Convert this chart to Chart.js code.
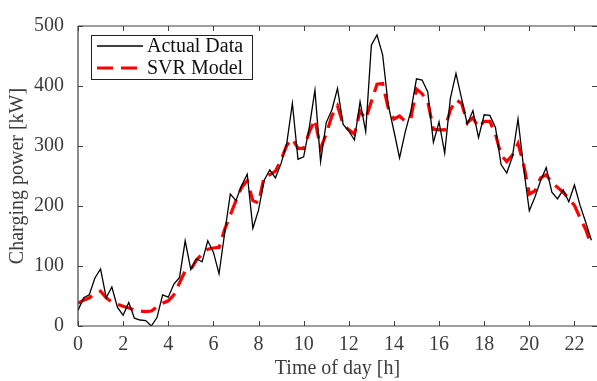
<!DOCTYPE html>
<html>
<head>
<meta charset="utf-8">
<script src="https://cdn.jsdelivr.net/npm/chart.js@4.4.0/dist/chart.umd.min.js"></script>
<style>
  html, body { margin: 0; padding: 0; background: #fff; }
  #wrap { width: 597px; height: 381px; }
</style>
</head>
<body>
<div id="wrap"><canvas id="powerChart"></canvas></div>
<script>
// time of day, 15 minute steps
const hours = [
  0, 0.25, 0.5, 0.75, 1, 1.25, 1.5, 1.75, 2, 2.25, 2.5, 2.75,
  3, 3.25, 3.5, 3.75, 4, 4.25, 4.5, 4.75, 5, 5.25, 5.5, 5.75,
  6, 6.25, 6.5, 6.75, 7, 7.25, 7.5, 7.75, 8, 8.25, 8.5, 8.75,
  9, 9.25, 9.5, 9.75, 10, 10.25, 10.5, 10.75, 11, 11.25, 11.5, 11.75,
  12, 12.25, 12.5, 12.75, 13, 13.25, 13.5, 13.75, 14, 14.25, 14.5, 14.75,
  15, 15.25, 15.5, 15.75, 16, 16.25, 16.5, 16.75, 17, 17.25, 17.5, 17.75,
  18, 18.25, 18.5, 18.75, 19, 19.25, 19.5, 19.75, 20, 20.25, 20.5, 20.75,
  21, 21.25, 21.5, 21.75, 22, 22.25, 22.5, 22.75
];

const actualData = [
  26, 47, 52, 80, 95, 47, 65, 31, 18, 39, 13, 10,
  9, 0, 14, 52, 48, 70, 81, 142, 94, 112, 107, 142,
  123, 87, 155, 220, 209, 234, 253, 163, 193, 243, 260, 247,
  271, 304, 371, 278, 282, 331, 393, 274, 339, 360, 396, 336,
  325, 310, 374, 324, 468, 485, 452, 368, 325, 280, 323, 358,
  412, 410, 390, 306, 340, 288, 379, 421, 379, 336, 359, 314,
  352, 351, 331, 269, 255, 282, 345, 263, 192, 215, 242, 264,
  223, 212, 227, 207, 235, 201, 173, 143
];

const svrModel = [
  38, 43, 47, 54, 58, 47, 40, 36, 33, 30, 27, 25,
  24, 25, 32, 38, 42, 52, 72, 92, 94, 110, 120, 128,
  130, 131, 161, 185, 209, 231, 242, 209, 205, 249, 252, 258,
  277, 301, 312, 296, 296, 323, 344, 296, 320, 350, 367, 336,
  327, 320, 358, 345, 374, 403, 404, 363, 345, 350, 341, 346,
  395, 387, 374, 328, 327, 327, 360, 377, 371, 339, 347, 331,
  341, 341, 320, 285, 274, 285, 304, 269, 220, 225, 247, 252,
  239, 231, 223, 212, 201, 180, 161, 134
];

const xTicks = [0, 2, 4, 6, 8, 10, 12, 14, 16, 18, 20, 22];
const yTicks = [0, 100, 200, 300, 400, 500];

const serif = '"Liberation Serif", "DejaVu Serif", serif';
const textColor = '#3c3c3c';
const frameColor = '#404040';

// box, inward ticks and legend (MATLAB look)
const frameAndLegend = {
  id: 'frameAndLegend',
  afterDraw(chart) {
    const ctx = chart.ctx;
    const a = chart.chartArea;
    const xs = chart.scales.x, ys = chart.scales.y;
    ctx.save();
    ctx.strokeStyle = frameColor;
    ctx.lineWidth = 1.2;
    ctx.beginPath();
    ctx.moveTo(a.left, a.top); ctx.lineTo(a.right, a.top);
    ctx.moveTo(a.left, a.bottom); ctx.lineTo(a.right, a.bottom);
    ctx.moveTo(a.left, a.top); ctx.lineTo(a.left, a.bottom);
    ctx.stroke();

    ctx.lineWidth = 1;
    ctx.beginPath();
    xTicks.forEach(v => {
      const px = Math.round(xs.getPixelForValue(v)) + 0.5;
      ctx.moveTo(px, a.bottom); ctx.lineTo(px, a.bottom - 5);
      ctx.moveTo(px, a.top); ctx.lineTo(px, a.top + 5);
    });
    yTicks.forEach(v => {
      const py = Math.round(ys.getPixelForValue(v)) + 0.5;
      ctx.moveTo(a.left, py); ctx.lineTo(a.left + 5, py);
      ctx.moveTo(a.right, py); ctx.lineTo(a.right - 5, py);
    });
    ctx.stroke();

    // legend
    const lx = a.left + 13, ly = a.top + 9, lw = 161, lh = 44;
    ctx.fillStyle = '#fff';
    ctx.fillRect(lx, ly, lw, lh);
    ctx.strokeStyle = '#222';
    ctx.lineWidth = 1;
    ctx.strokeRect(lx + 0.5, ly + 0.5, lw, lh);
    ctx.font = '20px ' + serif;
    ctx.textBaseline = 'middle';
    chart.data.datasets.forEach((ds, i) => {
      const cy = ly + 11 + i * 22;
      ctx.save();
      ctx.strokeStyle = ds.borderColor;
      ctx.lineWidth = ds.borderWidth;
      ctx.setLineDash(ds.borderDash || []);
      ctx.beginPath();
      ctx.moveTo(lx + 6, cy); ctx.lineTo(lx + 52, cy);
      ctx.stroke();
      ctx.restore();
      ctx.fillStyle = '#111';
      ctx.fillText(ds.label, lx + 56, cy + 1);
    });
    ctx.restore();
  }
};

const ctx = document.getElementById('powerChart').getContext('2d');
new Chart(ctx, {
  type: 'line',
  data: {
    datasets: [{
      label: 'Actual Data',
      data: hours.map((h, i) => ({ x: h, y: actualData[i] })),
      borderColor: '#000',
      borderWidth: 1.3,
      pointRadius: 0,
      tension: 0
    }, {
      label: 'SVR Model',
      data: hours.map((h, i) => ({ x: h, y: svrModel[i] })),
      borderColor: '#ff0000',
      borderWidth: 3.2,
      borderDash: [16, 8],
      pointRadius: 0,
      tension: 0
    }]
  },
  options: {
    responsive: true,
    maintainAspectRatio: false,
    animation: false,
    layout: { padding: { top: 17, right: 0, left: 0, bottom: 0 } },
    plugins: {
      legend: { display: false },
      tooltip: { enabled: false }
    },
    scales: {
      x: {
        type: 'linear',
        min: 0,
        max: 23,
        afterBuildTicks: s => { s.ticks = xTicks.map(v => ({ value: v })); },
        afterFit: s => { s.height = 55; },
        grid: { display: false, drawTicks: false },
        border: { display: false },
        ticks: {
          padding: 7,
          color: textColor,
          font: { family: serif, size: 20 },
          maxRotation: 0
        },
        title: {
          display: true,
          text: 'Time of day [h]',
          color: textColor,
          font: { family: serif, size: 20 },
          padding: { top: 0, bottom: 0 }
        }
      },
      y: {
        min: 0,
        max: 500,
        afterBuildTicks: s => { s.ticks = yTicks.map(v => ({ value: v })); },
        afterFit: s => { s.width = 78; },
        grid: { display: false, drawTicks: false },
        border: { display: false },
        ticks: {
          padding: 14,
          color: textColor,
          font: { family: serif, size: 20 }
        },
        title: {
          display: true,
          text: 'Charging power [kW]',
          color: textColor,
          font: { family: serif, size: 20 },
          padding: { top: 6, bottom: 0 }
        }
      }
    }
  },
  plugins: [frameAndLegend]
});
</script>
</body>
</html>
